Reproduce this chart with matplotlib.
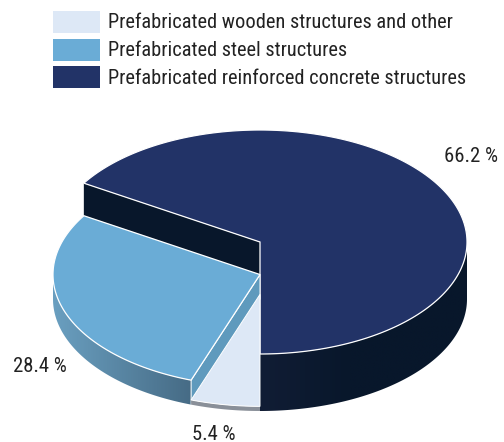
import numpy as np
import matplotlib
matplotlib.use("Agg")
import matplotlib.pyplot as plt
from matplotlib.patches import Polygon, Rectangle
from matplotlib.colors import to_rgb

categories = ["Prefabricated wooden structures and other",
              "Prefabricated steel structures",
              "Prefabricated reinforced concrete structures"]
values = [5.4, 28.4, 66.2]
labels = ["5.4 %", "28.4 %", "66.2 %"]
top_colors = ["#DDE8F6", "#6AACD6", "#223367"]
side_start = ["#8A9099", "#6A9FC0", "#111D35"]
side_end = ["#8A9099", "#466B85", "#08172B"]
cut_wall_color = "#08172B"
inner_wall_color = "#5F9ABD"
label_pos = [(213.5, 434), (40, 367), (471, 157)]

plt.rcParams["font.family"] = ["Roboto Condensed", "Liberation Sans", "DejaVu Sans"]

W, H = 504, 442
fig = plt.figure(figsize=(W / 100, H / 100), dpi=100)
ax = fig.add_axes([0, 0, 1, 1])
ax.set_xlim(0, W)
ax.set_ylim(H, 0)
ax.axis("off")

cx, base_y, rx, ry = 260, 299, 207, 112
k = 57 / 66.2  # pixels of height per percent


def pt(deg, yc):
    a = np.radians(deg)
    return cx + rx * np.sin(a), yc - ry * np.cos(a)


def arc(d0, d1, yc):
    t = np.linspace(d0, d1, max(2, int(abs(d1 - d0) * 2) + 1))
    x, y = pt(t, yc)
    return np.column_stack([x, y])


# clockwise from 6 o'clock: small, medium, large slice
start = 180.0
spans = []
for v in values:
    spans.append((start, start + v * 3.6))
    start += v * 3.6
tops = [base_y - v * k for v in values]


def side_surface(i, r0, r1, z):
    yt, h = tops[i], values[i] * k
    upper = arc(r0, r1, yt)
    lower = arc(r0, r1, yt + h)[::-1]
    verts = np.vstack([upper, lower])
    x0, x1 = verts[:, 0].min(), verts[:, 0].max()
    y0, y1 = verts[:, 1].min(), verts[:, 1].max()
    n = 256
    f = np.linspace(0, 1, n)
    if i == 2:
        f = np.clip(f * (x1 - x0) / 90, 0, 1)
    a, b = np.array(to_rgb(side_start[i])), np.array(to_rgb(side_end[i]))
    grad = (a + (b - a) * f[:, None])[None, :, :]
    clip = Polygon(verts, closed=True, fc="none", ec="none", transform=ax.transData)
    ax.add_patch(clip)
    im = ax.imshow(grad, extent=(x0, x1, y1, y0), aspect="auto", zorder=z,
                   interpolation="bilinear")
    im.set_clip_path(clip)


# large slice, back to front
d0, d1 = spans[2]
side_surface(2, 450, d1, 3)
ex, ey = pt(d0, tops[2])
ax.add_patch(Polygon([(cx, tops[2]), (ex, ey), (ex, ey + tops[1] - tops[2]), (cx, tops[1])],
                     closed=True, fc=cut_wall_color, ec="none", zorder=4))
ax.add_patch(Polygon(np.vstack([[cx, tops[2]], arc(d0, d1, tops[2])]), closed=True,
                     fc=top_colors[2], ec="white", lw=0.9, zorder=5))

# medium slice
d0, d1 = spans[1]
side_surface(1, d0, 270, 6)
sx, sy = pt(d0, tops[1])
h1 = values[1] * k
ax.add_patch(Polygon([(cx, tops[1]), (sx, sy), (sx, sy + h1), (cx, tops[1] + h1)],
                     closed=True, fc=inner_wall_color, ec="white", lw=0.7, zorder=7))
ax.add_patch(Polygon(np.vstack([[cx, tops[1]], arc(d0, d1, tops[1])]), closed=True,
                     fc=top_colors[1], ec="white", lw=0.9, zorder=8))

# small slice
d0, d1 = spans[0]
side_surface(0, d0, d1, 9)
ax.add_patch(Polygon(np.vstack([[cx, tops[0]], arc(d0, d1, tops[0])]), closed=True,
                     fc=top_colors[0], ec="white", lw=0.7, zorder=10))

# legend
swatch_y = [11, 38.5, 66]
text_y = [23, 50.5, 78]
for c, sy, ty, name in zip(top_colors, swatch_y, text_y, categories):
    ax.add_patch(Rectangle((53, sy), 47, 22, fc=c, ec="none", zorder=20))
    ax.text(108, ty, name, fontsize=14.7, color="#222222", va="center", ha="left", zorder=20)

for (x, y), s in zip(label_pos, labels):
    ax.text(x, y, s, fontsize=14.9, color="#222222", ha="center", va="center", zorder=20)

ax.set_xlim(0, W)
ax.set_ylim(H, 0)
fig.savefig("out.png", dpi=100)
